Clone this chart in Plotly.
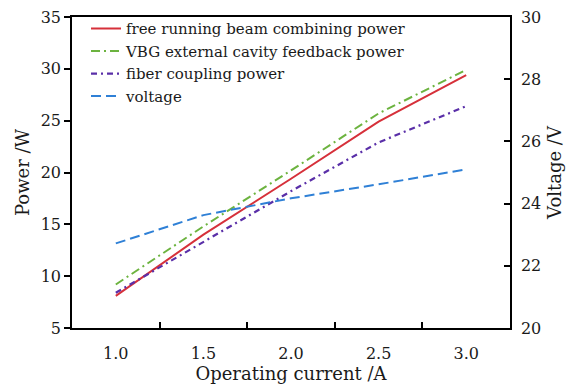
import plotly.graph_objects as go

current = [1.0, 1.5, 2.0, 2.5, 3.0]
free_running_power = [8.1, 14.0, 19.4, 24.9, 29.4]
vbg_power = [9.2, 14.8, 20.2, 25.7, 29.9]
fiber_power = [8.4, 13.3, 18.2, 22.9, 26.4]
voltage = [22.72, 23.63, 24.17, 24.62, 25.1]

x_tick_vals = [1.0, 1.5, 2.0, 2.5, 3.0]
x_tick_text = ["1.0", "1.5", "2.0", "2.5", "3.0"]
x_minor_ticks = [1.25, 1.75, 2.25, 2.75]

FONT = "DejaVu Serif"
fig = go.Figure()
fig.add_trace(go.Scatter(x=current, y=free_running_power, mode="lines",
                         name="free running beam combining power",
                         line=dict(color="#d6303a", width=2)))
fig.add_trace(go.Scatter(x=current, y=vbg_power, mode="lines",
                         name="VBG external cavity feedback power",
                         line=dict(color="#6cb33f", width=2, dash="9px,4px,2px,4px")))
fig.add_trace(go.Scatter(x=current, y=fiber_power, mode="lines",
                         name="fiber coupling power",
                         line=dict(color="#5a2fa8", width=2.2, dash="6px,4px,2px,4px")))
fig.add_trace(go.Scatter(x=current, y=voltage, mode="lines", yaxis="y2",
                         name="voltage",
                         line=dict(color="#2f80d6", width=2, dash="10px,5px")))

fig.update_layout(
    width=578, height=384,
    margin=dict(l=72, r=68, t=17, b=56),
    paper_bgcolor="white", plot_bgcolor="white",
    font=dict(family=FONT, size=16, color="#1a1a1a"),
    showlegend=True,
    legend=dict(x=0.032, y=1.015, xanchor="left", yanchor="top",
                bgcolor="rgba(0,0,0,0)", font=dict(size=15, family=FONT),
                tracegroupgap=0, itemwidth=30),
    xaxis=dict(range=[0.75, 3.25], tickvals=x_tick_vals, ticktext=x_tick_text,
               ticks="outside", ticklen=10, tickcolor="rgba(0,0,0,0)",
               showline=True, linecolor="black", linewidth=1.5, mirror=True,
               showgrid=False, zeroline=False, automargin=False,
               minor=dict(tickvals=x_minor_ticks, ticks="inside", ticklen=6,
                          tickcolor="black", tickwidth=1.5, showgrid=False),
               title=dict(text="Operating current /A", standoff=8, font=dict(size=18))),
    yaxis=dict(range=[5, 35], dtick=5, ticks="outside", ticklen=6, tickwidth=1.5,
               tickcolor="black", showline=True, linecolor="black", linewidth=1.5,
               showgrid=False, zeroline=False, automargin=False,
               title=dict(text="Power /W", standoff=6, font=dict(size=18))),
    yaxis2=dict(range=[20, 30], dtick=2, overlaying="y", side="right",
                ticks="inside", ticklen=6, tickwidth=1.5, tickcolor="black",
                showline=True, linecolor="black", linewidth=1.5,
                showgrid=False, zeroline=False, ticklabelstandoff=6, automargin=False,
                title=dict(text="Voltage /V", standoff=8, font=dict(size=18))),
)

fig.write_html("out.html")
